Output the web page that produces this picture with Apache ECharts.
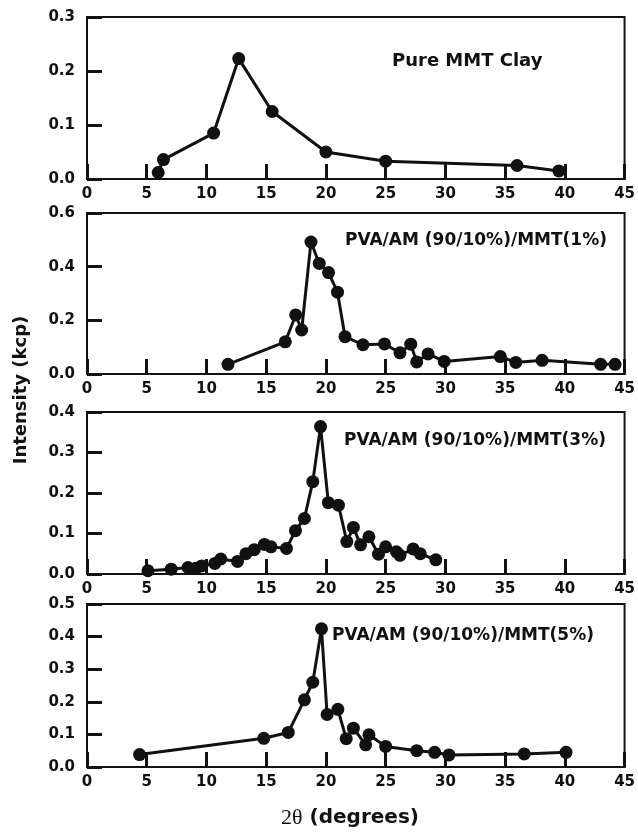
<!DOCTYPE html>
<html>
<head>
<meta charset="utf-8">
<script src="https://cdn.jsdelivr.net/npm/echarts@6.0.0/dist/echarts.min.js"></script>
<style>
html,body{margin:0;padding:0;background:#fff;}
#chart{width:638px;height:836px;}
</style>
</head>
<body>
<div id="chart"></div>
<script>
// ---- data ----
const xTicks = [0, 5, 10, 15, 20, 25, 30, 35, 40, 45];
const panelLabels = ['Pure MMT Clay', 'PVA/AM (90/10%)/MMT(1%)', 'PVA/AM (90/10%)/MMT(3%)', 'PVA/AM (90/10%)/MMT(5%)'];
const yMax = [0.3, 0.6, 0.4, 0.5];
const yStep = [0.1, 0.2, 0.1, 0.1];

const mmtX = [5.96, 6.4, 10.6, 12.7, 15.5, 20.0, 25.0, 36.0, 39.5];
const mmtY = [0.012, 0.036, 0.085, 0.223, 0.125, 0.05, 0.033, 0.025, 0.015];

const p1X = [11.8, 16.6, 17.47, 17.97, 18.75, 19.44, 20.22, 20.97, 21.6, 23.1, 24.9, 26.2, 27.1, 27.6, 28.55, 29.9, 34.6, 35.9, 38.1, 43.0, 44.2];
const p1Y = [0.036, 0.12, 0.22, 0.164, 0.492, 0.412, 0.378, 0.305, 0.139, 0.109, 0.112, 0.079, 0.111, 0.045, 0.075, 0.047, 0.065, 0.043, 0.051, 0.036, 0.036];

const p3X = [5.1, 7.05, 8.45, 9.1, 9.6, 10.7, 11.2, 12.6, 13.3, 14.0, 14.85, 15.4, 16.7, 17.45, 18.2, 18.9, 19.55, 20.2, 21.05, 21.75, 22.3, 22.9, 23.6, 24.4, 25.0, 25.9, 26.2, 27.3, 27.9, 29.2];
const p3Y = [0.008, 0.012, 0.016, 0.014, 0.02, 0.026, 0.037, 0.031, 0.05, 0.06, 0.073, 0.067, 0.063, 0.107, 0.137, 0.228, 0.364, 0.176, 0.17, 0.08, 0.115, 0.072, 0.092, 0.049, 0.067, 0.055, 0.046, 0.062, 0.05, 0.035];

const p5X = [4.4, 14.8, 16.85, 18.2, 18.9, 19.63, 20.1, 21.0, 21.7, 22.3, 23.33, 23.6, 25.0, 27.6, 29.1, 30.3, 36.6, 40.1];
const p5Y = [0.038, 0.088, 0.106, 0.206, 0.26, 0.424, 0.161, 0.177, 0.087, 0.119, 0.068, 0.099, 0.063, 0.05, 0.045, 0.037, 0.04, 0.045];

const seriesX = [mmtX, p1X, p3X, p5X];
const seriesY = [mmtY, p1Y, p3Y, p5Y];

// ---- layout ----
const gridTops = [17, 213, 412, 604];
const gridHeights = [162, 161, 162, 163];
const labelPos = [[392, 62], [345, 242], [344, 442], [332, 637]];
const labelSize = [18, 17, 17, 17];

const SANS = '"DejaVu Sans", sans-serif';
const grids = [], xAxes = [], yAxes = [], series = [], graphics = [];

for (let i = 0; i < 4; i++) {
  grids.push({
    left: 87, right: 11, top: gridTops[i], height: gridHeights[i],
    show: true, borderColor: '#111', borderWidth: 2, backgroundColor: 'transparent'
  });
  xAxes.push({
    type: 'value', gridIndex: i, min: xTicks[0], max: xTicks[xTicks.length - 1], interval: 5,
    axisLine: {show: true, onZero: false, lineStyle: {color: '#111', width: 2}},
    axisTick: {show: true, inside: true, length: 15, lineStyle: {color: '#111', width: 3}},
    axisLabel: {show: true, margin: 8, color: '#111', fontFamily: SANS, fontWeight: 'bold', fontSize: 15,
      showMinLabel: true, showMaxLabel: true},
    splitLine: {show: false}
  });
  yAxes.push({
    type: 'value', gridIndex: i, min: 0, max: yMax[i], interval: yStep[i],
    axisLine: {show: true, lineStyle: {color: '#111', width: 2}},
    axisTick: {show: true, inside: true, length: 15, lineStyle: {color: '#111', width: 3}},
    axisLabel: {show: true, margin: 12, color: '#111', fontFamily: SANS, fontWeight: 'bold', fontSize: 15,
      formatter: v => v.toFixed(1), showMinLabel: true, showMaxLabel: true},
    splitLine: {show: false}
  });
  series.push({
    type: 'line', xAxisIndex: i, yAxisIndex: i,
    data: seriesX[i].map((x, k) => [x, seriesY[i][k]]),
    symbol: 'circle', symbolSize: 13, showSymbol: true, clip: false,
    lineStyle: {color: '#111', width: 3},
    itemStyle: {color: '#111'},
    animation: false
  });
  graphics.push({
    type: 'text', left: labelPos[i][0], top: labelPos[i][1] - 10,
    style: {text: panelLabels[i], fill: '#111', font: 'bold ' + labelSize[i] + 'px ' + SANS}
  });
}

graphics.push({
  type: 'text', x: 21, y: 390, rotation: Math.PI / 2,
  style: {text: 'Intensity (kcp)', fill: '#111', font: 'bold 18px ' + SANS, align: 'center', verticalAlign: 'middle'}
});
graphics.push({
  type: 'text', x: 350, y: 818,
  style: {
    text: '{a|2θ}{b| (degrees)}', align: 'center', verticalAlign: 'middle', fill: '#111',
    rich: {
      a: {font: '22px "Liberation Serif", serif', fill: '#111'},
      b: {font: 'bold 20px ' + SANS, fill: '#111'}
    }
  }
});

const chart = echarts.init(document.getElementById('chart'), null, {renderer: 'canvas'});
chart.setOption({
  animation: false,
  backgroundColor: '#fff',
  grid: grids, xAxis: xAxes, yAxis: yAxes, series: series, graphic: graphics
});
</script>
</body>
</html>
